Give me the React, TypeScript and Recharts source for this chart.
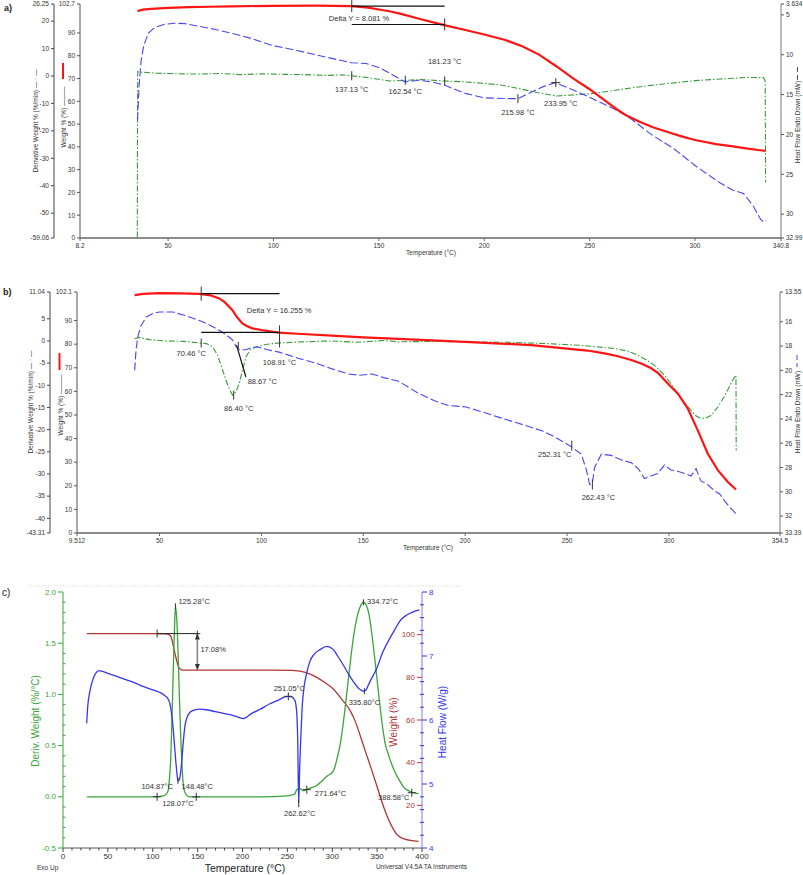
import React from 'react';
import { ComposedChart, Line, XAxis, YAxis, ReferenceLine, ReferenceDot } from 'recharts';

const FONT = '"Liberation Sans", Arial, Helvetica, sans-serif';

// ---------------- panel a) ----------------
const tempTicksA = [8.2, 50, 100, 150, 200, 250, 300, 340.8];
const weightTicksA = [0, 10, 20, 30, 40, 50, 60, 70, 80, 90, 102.7];
const derivTicksA = [-59.06, -50, -40, -30, -20, -10, 0, 10, 20, 26.25];
const heatTicksA = [3.634, 5, 10, 15, 20, 25, 30, 32.99];

const weightA = [
  [35.5, 99.6], [38, 100.2], [42, 100.6], [50, 101.0], [60, 101.3], [70, 101.5], [80, 101.7],
  [100, 101.9], [120, 102.0], [137, 101.8], [145, 101.1], [150, 100.3], [155, 99.5], [160, 98.5],
  [170, 96.0], [181, 93.4], [190, 91.5], [200, 89.3], [210, 86.9], [218, 84.2], [226, 80.5],
  [234, 75.5], [242, 70.2], [250, 65.3], [257, 60.5], [263, 56.4], [268, 53.5], [274, 50.9],
  [280, 48.6], [287, 46.5], [294, 44.5], [300, 43.0], [310, 41.2], [318, 40.2], [325, 39.2],
  [333.5, 38.2],
];
const heatA = [
  [35.5, 18.2], [36.2, 14.0], [37.2, 10.7], [38.5, 8.8], [40.6, 7.3], [43.5, 6.6], [48, 6.2],
  [53, 6.05], [58, 6.1], [64, 6.4], [72, 6.8], [80, 7.3], [90, 8.0], [99, 8.8], [110, 9.4],
  [120, 10.0], [130, 10.6], [137, 11.0], [144, 11.1], [150, 11.6], [155, 12.3], [159.6, 13.0],
  [162.5, 13.4], [166, 13.3], [169, 13.2], [175, 13.4], [181, 13.8], [191, 14.85], [200, 15.4],
  [210, 15.5], [216, 15.5], [223, 14.6], [228, 14.0], [233.5, 13.5], [242, 14.4], [249.6, 15.3],
  [256, 16.1], [263, 17.0], [270, 18.1], [278.7, 19.9], [290, 21.8], [300, 23.9], [306, 25.0],
  [312, 26.1], [318, 27.0], [323, 27.4], [327.7, 29.0], [331, 30.6], [332.5, 31.0], [333.5, 30.8],
];
const derivA = [
  [35.4, -58.9], [35.5, -10], [35.6, 1.6], [37, 1.4], [45, 1.0], [55, 0.8], [65, 0.7], [75, 0.9],
  [85, 0.5], [95, 0.8], [105, 0.6], [115, 0.5], [125, 0.2], [132, 0.4], [137, 0.1], [145, -0.6],
  [155, -1.8], [162.5, -1.6], [170, -1.3], [181, -1.8], [190, -2.1], [200, -2.7], [208, -3.3],
  [216, -4.5], [225, -6.0], [234.4, -7.3], [240, -7.0], [249.6, -6.5], [256, -5.9], [263, -5.1],
  [274, -3.9], [285, -2.9], [300, -1.7], [312, -1.1], [325, -0.5], [332.5, -0.6], [333.3, -2],
  [333.5, -38.8],
];
const marksA = [
  { t: 137.13, y: 0.1, axis: 'b_d', text: '137.13 °C' },
  { t: 162.54, y: 13.2, axis: 'h', text: '162.54 °C' },
  { t: 181.23, y: -1.8, axis: 'b_d', text: '181.23 °C' },
  { t: 215.98, y: 15.5, axis: 'h', text: '215.98 °C' },
  { t: 233.95, y: 13.5, axis: 'h', text: '233.95 °C' },
  { t: 137.13, y: 101.8, axis: 'a_w', text: '' },
  { t: 181.23, y: 93.7, axis: 'a_w', text: '' },
  { t: 140.6, y: 96.5, axis: 'a_w', text: 'Delta Y = 8.081 %' },
];
const marksAStyle = [
  { kind: 'v', len: 4.5, dx: 0, dy: 14 },
  { kind: 'v', len: 4.5, dx: 0, dy: 11 },
  { kind: 'v', len: 4.5, dx: 0, dy: -19 },
  { kind: 'v', len: 4.5, dx: 0, dy: 14 },
  { kind: '+', len: 4.5, dx: 5, dy: 21 },
  { kind: 'v', len: 6, dx: 0, dy: 0 },
  { kind: 'v', len: 6, dx: 0, dy: 0 },
  { kind: 'none', len: 0, dx: 0, dy: 0 },
];
const stepA = { from: 137.13, to: 181.23, top: 101.8, bottom: 93.7 };

// ---------------- panel b) ----------------
const tempTicksB = [9.512, 50, 100, 150, 200, 250, 300, 354.5];
const weightTicksB = [0, 10, 20, 30, 40, 50, 60, 70, 80, 90, 102.1];
const derivTicksB = [-43.31, -40, -35, -30, -25, -20, -15, -10, -5, 0, 5, 11.04];
const heatTicksB = [13.55, 16, 18, 20, 22, 24, 26, 28, 30, 32, 33.39];

const weightB = [
  [37.8, 100.8], [42, 101.3], [50, 101.6], [60, 101.5], [69.6, 101.3], [75, 100.7], [79.3, 99.4],
  [82, 97.8], [85.7, 94.5], [88, 91.5], [90.7, 88.8], [93, 87.6], [95.6, 86.7], [100, 86.0],
  [108.3, 84.9], [120, 84.3], [134.6, 83.6], [150, 82.9], [167.4, 82.2], [200, 81.0], [232.4, 79.6],
  [248.8, 78.2], [260, 77.3], [268.4, 76.1], [275, 74.9], [281.5, 73.3], [287, 71.6], [291.3, 69.8],
  [295, 67.5], [297.8, 64.8], [301, 62.0], [304.3, 59.1], [309.2, 52.8], [314.1, 43.6], [319, 33.7],
  [324, 26.6], [328.9, 21.6], [332.9, 18.4],
];
const heatB = [
  [37.8, 20.0], [38.5, 18.3], [39.4, 17.2], [41, 16.3], [43.5, 15.6], [47, 15.3], [50, 15.2],
  [56.5, 15.2], [63, 15.5], [69.6, 15.9], [75, 16.3], [79.3, 16.7], [83, 17.1], [85.8, 17.5],
  [87.5, 18.0], [89.1, 18.3], [92.4, 18.3], [95.5, 18.1], [98.9, 18.1], [103, 18.3], [108.7, 18.5],
  [118, 19.0], [126.6, 19.4], [135, 19.9], [142.9, 20.3], [148, 20.4], [154.3, 20.3], [160, 20.6],
  [167.4, 20.9], [177.1, 21.9], [185, 22.5], [191.8, 22.9], [200, 23.0], [208, 23.4], [216.3, 23.85],
  [225, 24.3], [232.6, 24.7], [238, 25.0], [244.1, 25.5], [251.3, 26.2], [257, 26.9], [259.5, 28.2],
  [261.1, 29.4], [262.4, 29.3], [263.5, 28.0], [266.8, 26.9], [271.7, 27.0], [277, 27.4],
  [281.5, 27.6], [285, 28.1], [288, 28.9], [291, 28.7], [294.5, 28.5], [297.8, 27.8], [301, 28.2],
  [304.3, 28.3], [308, 28.5], [310.8, 28.7], [313.3, 28.1], [315.7, 29.1], [319, 29.4],
  [322.2, 29.9], [325, 30.2], [327.1, 30.7], [330, 31.3], [332.9, 31.8],
];
const derivB = [
  [37.8, 0.5], [40, 0.8], [45, 0.3], [53.3, 0.0], [62, -0.1], [69.6, -0.45], [73, -0.6],
  [76.1, -1.35], [78.5, -3.2], [81, -6.6], [83.5, -10.0], [85.8, -12.2], [87.5, -11.5],
  [89.1, -9.6], [90.8, -6.5], [92.4, -3.6], [94.5, -2.0], [97.3, -1.35], [102, -0.8],
  [108.7, -0.45], [120, -0.2], [134.6, 0.0], [147, -0.3], [160, 0.1], [167.4, -0.2], [185, -0.1],
  [200, -0.2], [220, -0.3], [240.7, -0.6], [257, -1.0], [273.3, -1.7], [280, -2.3], [284.7, -3.2],
  [289, -4.3], [292.9, -5.5], [297.8, -7.7], [301, -9.6], [304.3, -11.9], [307.5, -13.9],
  [310.8, -15.6], [313, -16.8], [315.7, -17.5], [318, -17.4], [320.6, -16.8], [324, -14.9],
  [327.1, -12.6], [330, -10.0], [331.2, -8.9], [332.9, -7.7], [333.0, -24.7],
];
const marksB = [
  { t: 70.46, y: -0.45, axis: 'b_d', text: '70.46 °C' },
  { t: 108.91, y: -0.45, axis: 'b_d', text: '108.91 °C' },
  { t: 88.67, y: 17.9, axis: 'h', text: '88.67 °C' },
  { t: 86.4, y: -12.2, axis: 'b_d', text: '86.40 °C' },
  { t: 252.31, y: 26.2, axis: 'h', text: '252.31 °C' },
  { t: 262.43, y: 29.4, axis: 'h', text: '262.43 °C' },
  { t: 70.46, y: 101.4, axis: 'a_w', text: '' },
  { t: 108.91, y: 85.0, axis: 'a_w', text: '' },
  { t: 108.7, y: 94.1, axis: 'a_w', text: 'Delta Y = 16.255 %' },
];
const marksBStyle = [
  { kind: 'v', len: 4.5, dx: -10, dy: 11 },
  { kind: 'v', len: 4.5, dx: 0, dy: 20 },
  { kind: 'v', len: 3, dx: 24, dy: 37 },
  { kind: 'v', len: 4.5, dx: 5, dy: 13 },
  { kind: 'v', len: 5, dx: -17, dy: 9 },
  { kind: 'v', len: 5, dx: 6, dy: 13 },
  { kind: 'v', len: 7, dx: 0, dy: 0 },
  { kind: 'v', len: 7, dx: 0, dy: 0 },
  { kind: 'none', len: 0, dx: 0, dy: 0 },
];
const stepB = { from: 70.46, to: 108.91, top: 101.4, bottom: 85.0 };
const tangentB = [[87.8, 17.93], [92.4, 20.55]];

// ---------------- panel c) ----------------
const range = (a: number, b: number, s: number) =>
  Array.from({ length: Math.round((b - a) / s) + 1 }, (_, i) => Math.round((a + i * s) * 1000) / 1000);
const tempTicksC = range(0, 400, 10);
const derivTicksC = range(-0.5, 2, 0.1);
const weightTicksC = [20, 40, 60, 80, 100];
const heatTicksC = range(4, 8, 0.2);

const derivC = [
  [26.4, 0.0], [60, 0.0], [100, 0.0], [112, 0.01], [115.5, 0.03], [117.4, 0.07], [118.8, 0.2],
  [120, 0.36], [121.2, 0.7], [122.2, 1.01], [123.7, 1.5], [124.6, 1.74], [125.4, 1.86],
  [126.4, 1.78], [127.4, 1.62], [128.5, 1.33], [129.6, 1.0], [131, 0.63], [132.3, 0.36],
  [134, 0.12], [136, 0.04], [141, 0.0], [180, 0.0], [220, 0.0], [250, 0.01], [256, 0.02],
  [258.5, 0.03], [260.4, 0.07], [264, 0.08], [268, 0.06], [271, 0.07], [277, 0.09], [282.7, 0.11],
  [288, 0.15], [294, 0.2], [301.2, 0.25], [305, 0.36], [308.6, 0.5], [312, 0.7], [315, 0.92],
  [318, 1.15], [321, 1.38], [324, 1.58], [327, 1.73], [330.9, 1.85], [334.7, 1.9], [338, 1.87],
  [341, 1.78], [344, 1.6], [348, 1.3], [352, 0.98], [355.5, 0.72], [359, 0.52], [363, 0.4],
  [367, 0.3], [371, 0.22], [375.5, 0.15], [380, 0.09], [385, 0.06], [390, 0.04], [396, 0.03],
];
const weightC = [
  [26.4, 100.5], [60, 100.5], [100, 100.5], [115, 100.4], [118, 100.0], [120, 99.3], [121.5, 97.5],
  [123, 94.5], [125, 90.8], [127, 87.3], [128.5, 85.2], [130, 84.0], [132.3, 83.5], [136, 83.4],
  [180, 83.4], [230, 83.4], [255, 83.3], [262, 83.0], [270, 82.3], [282.7, 80.0], [292, 77.5],
  [301.2, 74.5], [310, 70.0], [319.8, 64.5], [326, 59.0], [330.9, 53.0], [338, 44.0], [344, 36.5],
  [349.4, 29.5], [355, 22.0], [360.6, 15.5], [366, 10.5], [371.7, 6.5], [376, 5.0], [381, 4.2],
  [387, 3.6], [396, 3.1],
];
const heatC = [
  [26.4, 5.95], [27.5, 6.2], [30, 6.45], [33, 6.62], [36, 6.72], [40, 6.77], [44, 6.76], [50, 6.73],
  [60, 6.68], [70, 6.63], [80, 6.58], [90, 6.52], [100, 6.47], [108, 6.43], [113.6, 6.38],
  [117, 6.33], [119.2, 6.25], [121, 6.1], [122.9, 5.85], [124.8, 5.5], [126.7, 5.2], [128.1, 5.05],
  [129.3, 5.06], [130.8, 5.15], [132.3, 5.35], [134, 5.65], [136, 5.92], [138.5, 6.05],
  [141.5, 6.12], [147, 6.16], [152.6, 6.17], [160, 6.16], [170, 6.13], [180, 6.1], [190, 6.07],
  [200.9, 6.02], [210, 6.1], [220, 6.17], [230, 6.25], [240, 6.31], [247, 6.36], [251, 6.37],
  [255, 6.36], [258.5, 6.3], [260.5, 6.1], [261.5, 5.7], [262.6, 4.7], [263.8, 5.3], [265.2, 5.8],
  [266.5, 6.2], [268, 6.45], [271, 6.7], [275.2, 6.92], [280, 7.03], [286.4, 7.1], [293.8, 7.15],
  [301.2, 7.1], [306, 7.0], [312.3, 6.86], [318, 6.72], [323.5, 6.6], [329, 6.5], [333, 6.46],
  [335.8, 6.45], [338, 6.48], [342, 6.6], [349.4, 6.8], [356, 7.05], [364.3, 7.28], [370, 7.42],
  [375.5, 7.55], [383, 7.64], [390, 7.69], [397, 7.72],
];
const marksC = [
  { t: 125.28, y: 1.86, axis: 'd', text: '125.28°C' },
  { t: 104.87, y: 0, axis: 'd', text: '104.87°C' },
  { t: 148.48, y: 0, axis: 'd', text: '148.48°C' },
  { t: 128.07, y: 5.05, axis: 'h', text: '128.07°C' },
  { t: 251.05, y: 6.37, axis: 'h', text: '251.05°C' },
  { t: 262.62, y: 4.7, axis: 'h', text: '262.62°C' },
  { t: 271.64, y: 0.07, axis: 'd', text: '271.64°C' },
  { t: 334.72, y: 1.9, axis: 'd', text: '334.72°C' },
  { t: 335.8, y: 6.45, axis: 'h', text: '335.80°C' },
  { t: 388.58, y: 0.04, axis: 'd', text: '388.58°C' },
  { t: 104.87, y: 100.5, axis: 'w', text: '' },
  { t: 149.7, y: 100.5, axis: 'w', text: '' },
  { t: 152, y: 92, axis: 'w', text: '17.08%' },
];
const marksCStyle = [
  { kind: 'v', len: 3, dx: 3, dy: -5, anchor: 'start' },
  { kind: '+', len: 4, dx: 0, dy: -10 },
  { kind: '+', len: 4, dx: 1, dy: -10 },
  { kind: 'v', len: 3, dx: 0, dy: 23 },
  { kind: '+', len: 4, dx: 1, dy: -8 },
  { kind: 'v', len: 4, dx: 1, dy: 10 },
  { kind: '+', len: 4, dx: 8, dy: 4, anchor: 'start' },
  { kind: 'v', len: 3, dx: 3.5, dy: -1, anchor: 'start' },
  { kind: 'v', len: 3, dx: 0, dy: 11 },
  { kind: '+', len: 4, dx: -18, dy: 5 },
  { kind: 'v', len: 4, dx: 0, dy: 0 },
  { kind: '+', len: 3, dx: 0, dy: 0 },
  { kind: 'none', len: 0, dx: 1, dy: -2, anchor: 'start' },
];
const stepC = { from: 104.87, to: 151.5, top: 100.5, bottom: 83.4, arrowAt: 149.7 };

// ---------------- helpers ----------------
const pts = (arr: number[][]) => arr.map(([t, v]) => ({ t, v }));

const markShape = (s: any, text: string, size: number) => (p: any) => {
  const { cx, cy } = p;
  return (
    <g>
      {s.kind !== 'none' && <line x1={cx} y1={cy - s.len} x2={cx} y2={cy + s.len} stroke="#333" strokeWidth={1} />}
      {s.kind === '+' && <line x1={cx - s.len} y1={cy} x2={cx + s.len} y2={cy} stroke="#333" strokeWidth={1} />}
      {text && (
        <text x={cx + s.dx} y={cy + s.dy} textAnchor={s.anchor || 'middle'} dominantBaseline="central"
          fontSize={size} fill="#333" fontFamily={FONT}>{text}</text>
      )}
    </g>
  );
};

const VText = ({ x, y, children, size = 6.5, color = '#333', weight = 'normal' }: any) => (
  <text x={x} y={y} transform={`rotate(-90 ${x} ${y})`} textAnchor="middle" dominantBaseline="central"
    fontSize={size} fill={color} fontFamily={FONT} fontWeight={weight}>{children}</text>
);

const isMult = (v: number, step: number) => Math.abs(v / step - Math.round(v / step)) < 1e-6;

const RED = '#ff1414';
const BLUE = '#4646f5';
const GREEN = '#3a9a3a';
const C_GREEN = '#3aa53a';
const C_RED = '#b23636';
const C_BLUE = '#3535f0';

const smallTick = { fontSize: 6.5, fill: '#333', fontFamily: FONT };

const TitlesA = () => (
  <g>
    <text x={4} y={8} fontSize={9} fontWeight="bold" fill="#222" fontFamily={FONT} dominantBaseline="central">a)</text>
    <VText x={35} y={121}>Derivative Weight % (%/min) — · —</VText>
    <VText x={63} y={117}>Weight % (%) ———</VText>
    <line x1={63} y1={63} x2={63} y2={79} stroke={RED} strokeWidth={2} />
    <VText x={797.5} y={122}>Heat Flow Endo Down (mW)</VText>
    <line x1={797.5} y1={67} x2={797.5} y2={81} stroke={BLUE} strokeDasharray="5 3" />
    <text x={431} y={252} textAnchor="middle" dominantBaseline="central" fontSize={6.5} fill="#333" fontFamily={FONT}>Temperature (°C)</text>
  </g>
);

const TitlesB = () => (
  <g>
    <text x={3} y={12} fontSize={9} fontWeight="bold" fill="#222" fontFamily={FONT} dominantBaseline="central">b)</text>
    <VText x={30} y={122}>Derivative Weight % (%/min) — · —</VText>
    <VText x={60} y={125}>Weight % (%) ———</VText>
    <line x1={59.5} y1={73} x2={59.5} y2={90} stroke={RED} strokeWidth={2} />
    <VText x={797} y={132}>Heat Flow Endo Down (mW)</VText>
    <line x1={797} y1={75} x2={797} y2={87} stroke={BLUE} strokeDasharray="5 3" />
    <text x={428} y={267} textAnchor="middle" dominantBaseline="central" fontSize={6.5} fill="#333" fontFamily={FONT}>Temperature (°C)</text>
  </g>
);

const TitlesC = () => (
  <g>
    <line x1={27} y1={26} x2={462} y2={26} stroke="#d4d4d4" strokeDasharray="1 2" />
    <text x={2} y={32} fontSize={10} fill="#222" fontFamily={FONT} dominantBaseline="central">c)</text>
    <VText x={35} y={161} size={10} color={C_GREEN}>Deriv. Weight (%/°C)</VText>
    <VText x={393} y={162} size={10} color={C_RED}>Weight (%)</VText>
    <VText x={442} y={162} size={10} color={C_BLUE}>Heat Flow (W/g)</VText>
    <text x={245} y={308} textAnchor="middle" dominantBaseline="central" fontSize={10.5} fill="#222" fontFamily={FONT}>Temperature (°C)</text>
    <text x={37} y={307} dominantBaseline="central" fontSize={6.5} fill="#333" fontFamily={FONT}>Exo Up</text>
    <text x={421.5} y={306} textAnchor="middle" dominantBaseline="central" fontSize={6.5} fill="#333" fontFamily={FONT}>Universal V4.5A TA Instruments</text>
  </g>
);

const TickCLeft = ({ x, y, payload }: any) => {
  const v = payload.value;
  const major = isMult(v, 0.5);
  return (
    <g>
      {major
        ? <line x1={x - 5} y1={y} x2={x} y2={y} stroke={C_GREEN} />
        : <line x1={x} y1={y} x2={x + 2.5} y2={y} stroke={C_GREEN} />}
      {major && (
        <text x={x - 7} y={y} textAnchor="end" dominantBaseline="central" fontSize={8} fill={C_GREEN} fontFamily={FONT}>
          {v.toFixed(1)}
        </text>
      )}
    </g>
  );
};

const TickCBottom = ({ x, y, payload }: any) => {
  const v = payload.value;
  const major = isMult(v, 50);
  return (
    <g>
      <line x1={x} y1={y} x2={x} y2={y + (major ? 4 : 2.5)} stroke="#444" />
      {major && (
        <text x={x} y={y + 8.5} textAnchor="middle" dominantBaseline="central" fontSize={8} fill="#333" fontFamily={FONT}>
          {v}
        </text>
      )}
    </g>
  );
};

const TickCWeight = ({ x, y, payload }: any) => (
  <g>
    <line x1={x - 5} y1={y} x2={x} y2={y} stroke={C_RED} />
    <text x={x - 7} y={y} textAnchor="end" dominantBaseline="central" fontSize={8} fill={C_RED} fontFamily={FONT}>
      {payload.value}
    </text>
  </g>
);

const TickCHeat = ({ x, y, payload }: any) => {
  const v = payload.value;
  const major = isMult(v, 1);
  return (
    <g>
      {major
        ? <line x1={x} y1={y} x2={x + 5} y2={y} stroke={C_BLUE} />
        : <line x1={x - 2} y1={y} x2={x + 2} y2={y} stroke={C_BLUE} />}
      {major && (
        <text x={x + 7} y={y} textAnchor="start" dominantBaseline="central" fontSize={8} fill={C_BLUE} fontFamily={FONT}>
          {Math.round(v)}
        </text>
      )}
    </g>
  );
};

const ArrowShape = (p: any) => {
  const { x1, y1, y2 } = p;
  const top = Math.min(y1, y2);
  const bot = Math.max(y1, y2);
  return (
    <g>
      <line x1={x1} y1={top} x2={x1} y2={bot} stroke="#8a8a8a" strokeWidth={1.6} />
      <path d={`M${x1 - 2.5},${top + 6} L${x1},${top} L${x1 + 2.5},${top + 6} Z`} fill="#333" />
      <path d={`M${x1 - 2.5},${bot - 6} L${x1},${bot} L${x1 + 2.5},${bot - 6} Z`} fill="#333" />
    </g>
  );
};

const renderMarks = (marks: any[], styles: any[], size: number) =>
  marks.map((m, i) => (
    <ReferenceDot key={`m${i}`} x={m.t} y={m.y} yAxisId={m.axis} r={3} ifOverflow="visible"
      shape={markShape(styles[i], m.text, size)} />
  ));

// derivative axis is declared first (outer), weight axis second (next to the plot)
const PanelA = () => (
  <ComposedChart width={803} height={262} margin={{ top: 4, right: 0, bottom: 0, left: 0 }}>
    <XAxis type="number" dataKey="t" domain={[8.2, 340.8]} ticks={tempTicksA} interval={0} height={24}
      allowDataOverflow tick={smallTick} tickSize={3} tickMargin={2}
      axisLine={{ stroke: '#8c8c8c', strokeWidth: 2 }} tickLine={{ stroke: '#666' }} label={<TitlesA />} />
    <YAxis yAxisId="b_d" orientation="left" width={54} domain={[-59.06, 26.25]} ticks={derivTicksA} interval={0}
      allowDataOverflow tick={smallTick} tickSize={3} tickMargin={2}
      axisLine={{ stroke: '#444' }} tickLine={{ stroke: '#444' }} />
    <YAxis yAxisId="a_w" orientation="left" width={26} domain={[0, 102.7]} ticks={weightTicksA} interval={0}
      allowDataOverflow tick={smallTick} tickSize={3} tickMargin={2}
      axisLine={{ stroke: '#555' }} tickLine={{ stroke: '#555' }} />
    <YAxis yAxisId="h" orientation="right" width={22} reversed domain={[3.634, 32.99]} ticks={heatTicksA}
      interval={0} allowDataOverflow tick={smallTick} tickSize={3} tickMargin={2}
      axisLine={{ stroke: '#777' }} tickLine={{ stroke: '#555' }} />
    <Line data={pts(derivA)} dataKey="v" yAxisId="b_d" type="linear" stroke={GREEN} strokeWidth={1.1}
      strokeDasharray="6 2 1.5 2" dot={false} isAnimationActive={false} />
    <Line data={pts(heatA)} dataKey="v" yAxisId="h" type="linear" stroke={BLUE} strokeWidth={1.1}
      strokeDasharray="8 3" dot={false} isAnimationActive={false} />
    <Line data={pts(weightA)} dataKey="v" yAxisId="a_w" type="linear" stroke={RED} strokeWidth={2.2}
      dot={false} isAnimationActive={false} />
    <ReferenceLine yAxisId="a_w" segment={[{ x: stepA.from, y: stepA.top }, { x: stepA.to, y: stepA.top }]}
      stroke="#111" strokeWidth={1.2} />
    <ReferenceLine yAxisId="a_w" segment={[{ x: stepA.from, y: stepA.bottom }, { x: stepA.to, y: stepA.bottom }]}
      stroke="#111" strokeWidth={1.2} />
    {renderMarks(marksA, marksAStyle, 7.5)}
  </ComposedChart>
);

const PanelB = () => (
  <ComposedChart width={803} height={275} margin={{ top: 12, right: 0, bottom: 0, left: 0 }}>
    <XAxis type="number" dataKey="t" domain={[9.512, 354.5]} ticks={tempTicksB} interval={0} height={22}
      allowDataOverflow tick={smallTick} tickSize={3} tickMargin={2}
      axisLine={{ stroke: '#8c8c8c', strokeWidth: 2 }} tickLine={{ stroke: '#666' }} label={<TitlesB />} />
    <YAxis yAxisId="b_d" orientation="left" width={50} domain={[-43.31, 11.04]} ticks={derivTicksB} interval={0}
      allowDataOverflow tick={smallTick} tickSize={3} tickMargin={2}
      axisLine={{ stroke: '#444' }} tickLine={{ stroke: '#444' }} />
    <YAxis yAxisId="a_w" orientation="left" width={27} domain={[0, 102.1]} ticks={weightTicksB} interval={0}
      allowDataOverflow tick={smallTick} tickSize={3} tickMargin={2}
      axisLine={{ stroke: '#555' }} tickLine={{ stroke: '#555' }} />
    <YAxis yAxisId="h" orientation="right" width={23} reversed domain={[13.55, 33.39]} ticks={heatTicksB}
      interval={0} allowDataOverflow tick={smallTick} tickSize={3} tickMargin={2}
      axisLine={{ stroke: '#777' }} tickLine={{ stroke: '#555' }} />
    <Line data={pts(derivB)} dataKey="v" yAxisId="b_d" type="linear" stroke={GREEN} strokeWidth={1.1}
      strokeDasharray="6 2 1.5 2" dot={false} isAnimationActive={false} />
    <Line data={pts(heatB)} dataKey="v" yAxisId="h" type="linear" stroke={BLUE} strokeWidth={1.1}
      strokeDasharray="8 3" dot={false} isAnimationActive={false} />
    <Line data={pts(weightB)} dataKey="v" yAxisId="a_w" type="linear" stroke={RED} strokeWidth={2.2}
      dot={false} isAnimationActive={false} />
    <ReferenceLine yAxisId="a_w" segment={[{ x: stepB.from, y: stepB.top }, { x: stepB.to, y: stepB.top }]}
      stroke="#111" strokeWidth={1.2} />
    <ReferenceLine yAxisId="a_w" segment={[{ x: stepB.from, y: stepB.bottom }, { x: stepB.to, y: stepB.bottom }]}
      stroke="#111" strokeWidth={1.2} />
    <ReferenceLine yAxisId="h" segment={tangentB.map(([x, y]) => ({ x, y }))} stroke="#111" strokeWidth={1.2} />
    {renderMarks(marksB, marksBStyle, 7.5)}
  </ComposedChart>
);

const PanelC = () => (
  <ComposedChart width={803} height={315} margin={{ top: 32, right: 351, bottom: 0, left: 0 }}>
    <XAxis xAxisId="top" orientation="top" type="number" domain={[0, 400]} height={0} tick={false}
      tickLine={false} axisLine={{ stroke: '#9a9a9a', strokeWidth: 1.5 }} />
    <XAxis type="number" dataKey="t" domain={[0, 400]} ticks={tempTicksC} interval={0} height={27}
      allowDataOverflow tick={<TickCBottom />} tickLine={false} tickSize={0} tickMargin={0}
      axisLine={{ stroke: '#555' }} label={<TitlesC />} />
    <YAxis yAxisId="d" orientation="left" width={63} domain={[-0.5, 2]} ticks={derivTicksC} interval={0}
      allowDataOverflow tick={<TickCLeft />} tickLine={false} tickSize={0} tickMargin={0}
      axisLine={{ stroke: C_GREEN }} />
    <YAxis yAxisId="w" orientation="right" mirror width={40} domain={[0, 120]} ticks={weightTicksC}
      interval={0} allowDataOverflow tick={<TickCWeight />} tickLine={false} tickSize={0} tickMargin={0}
      axisLine={false} />
    <YAxis yAxisId="h" orientation="right" width={30} domain={[4, 8]} ticks={heatTicksC} interval={0}
      allowDataOverflow tick={<TickCHeat />} tickLine={false} tickSize={0} tickMargin={0}
      axisLine={{ stroke: '#7a7aff' }} />
    <Line data={pts(weightC)} dataKey="v" yAxisId="w" type="monotone" stroke={C_RED} strokeWidth={1.3}
      dot={false} isAnimationActive={false} />
    <Line data={pts(derivC)} dataKey="v" yAxisId="d" type="monotone" stroke={C_GREEN} strokeWidth={1.3}
      dot={false} isAnimationActive={false} />
    <Line data={pts(heatC)} dataKey="v" yAxisId="h" type="monotone" stroke={C_BLUE} strokeWidth={1.3}
      dot={false} isAnimationActive={false} />
    <ReferenceLine yAxisId="w" segment={[{ x: stepC.from, y: stepC.top }, { x: stepC.to, y: stepC.top }]}
      stroke="#222" strokeWidth={1} />
    <ReferenceLine yAxisId="w" segment={[{ x: stepC.arrowAt, y: stepC.top }, { x: stepC.arrowAt, y: stepC.bottom }]}
      shape={ArrowShape} />
    {renderMarks(marksC, marksCStyle, 7.5)}
  </ComposedChart>
);

export default function App() {
  return (
    <div style={{ position: 'absolute', left: 0, top: 0, width: 803, height: 875, background: '#fff', fontFamily: FONT }}>
      <div style={{ position: 'absolute', left: 0, top: 0 }}><PanelA /></div>
      <div style={{ position: 'absolute', left: 0, top: 280 }}><PanelB /></div>
      <div style={{ position: 'absolute', left: 0, top: 560 }}><PanelC /></div>
    </div>
  );
}
